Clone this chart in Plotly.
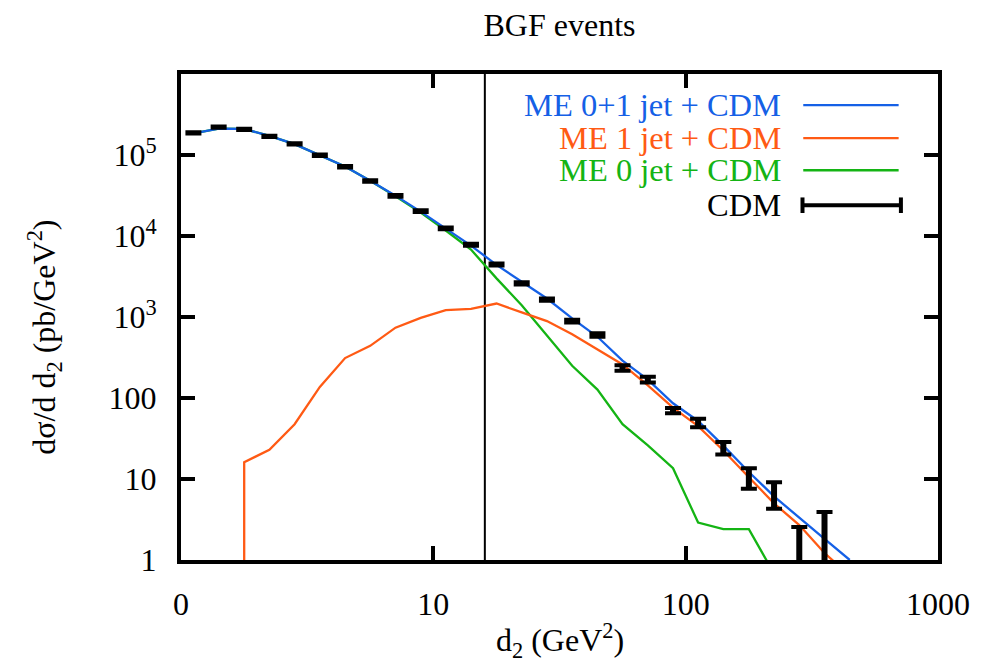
import plotly.graph_objects as go

# bin centres of d2 (GeV^2), 10 bins per decade
d2 = [1.12, 1.41, 1.78, 2.24, 2.82, 3.55, 4.47, 5.62, 7.08, 8.91,
      11.2, 14.1, 17.8, 22.4, 28.2, 35.5, 44.7, 56.2, 70.8, 89.1,
      112, 141, 178, 224, 282, 355, 447]

# CDM reference histogram with errors
cdm_y = [1.88e5, 2.21e5, 2.07e5, 1.70e5, 1.37e5, 9.95e4, 7.17e4, 4.78e4, 3.13e4, 2.03e4,
         1.24e4, 7.8e3, 4.44e3, 2.6e3, 1.64e3, 891, 600, 235, 169, 70,
         49.4, 24.3, 10.6, 6.7, 1.0, 1.3]
cdm_err = [3.5e3, 4.0e3, 3.8e3, 3.2e3, 2.6e3, 2.0e3, 1.5e3, 1.0e3, 700, 480,
           300, 200, 120, 80, 55, 35, 28, 18, 14, 5.2,
           6.0, 4.3, 3.0, 2.4, 1.56, 2.6]

# ME 0+1 jet + CDM
blue_y = [1.85e5, 2.12e5, 2.1e5, 1.72e5, 1.36e5, 9.9e4, 7.2e4, 4.8e4, 3.15e4, 2.0e4,
          1.22e4, 7.6e3, 4.4e3, 2.7e3, 1.69e3, 960, 570, 290, 169, 86,
          52, 25.8, 12.2, 6.1, 3.3, 1.82, 1.0]

# ME 0 jet + CDM
green_y = [1.85e5, 2.12e5, 2.1e5, 1.72e5, 1.36e5, 9.9e4, 7.2e4, 4.8e4, 3.1e4, 1.95e4,
           1.17e4, 6.8e3, 3.0e3, 1.4e3, 600, 250, 127, 47.5, 26, 13.6,
           2.9, 2.4, 2.4, 0.68]

# ME 1 jet + CDM (starts in the 3rd bin, first entry is the empty edge)
orange_x = [1.78, 1.78, 2.24, 2.82, 3.55, 4.47, 5.62, 7.08, 8.91,
            11.2, 14.1, 17.8, 22.4, 28.2, 35.5, 44.7, 56.2, 70.8, 89.1,
            112, 141, 178, 224, 282, 355, 447]
orange_y = [0.01, 16.1, 23, 47.5, 137, 311, 440, 738, 977,
            1214, 1260, 1466, 1138, 891, 612, 400, 260, 143, 76,
            45, 22.5, 10.5, 5.0, 2.7, 1.22, 0.64]

d2_cut = 16

legend_names = ['ME 0+1 jet + CDM', 'ME 1 jet + CDM', 'ME 0 jet + CDM', 'CDM']
col_blue = '#1560e6'
col_orange = '#ff5a14'
col_green = '#14b414'
legend_cols = [col_blue, col_orange, col_green, 'black']

FONT = 'Liberation Serif'
FS = 32

fig = go.Figure()

fig.add_trace(go.Scatter(x=[d2_cut, d2_cut], y=[0.5, 2e6], mode='lines',
                         line=dict(color='black', width=2), showlegend=False))

fig.add_trace(go.Scatter(x=d2[:len(green_y)], y=green_y, mode='lines',
                         line=dict(color=col_green, width=2.3), showlegend=False))
fig.add_trace(go.Scatter(x=orange_x, y=orange_y, mode='lines',
                         line=dict(color=col_orange, width=2.3), showlegend=False))
fig.add_trace(go.Scatter(x=d2, y=blue_y, mode='lines',
                         line=dict(color=col_blue, width=2.3), showlegend=False))

# CDM error bars: thick stems + caps
fig.add_trace(go.Scatter(x=d2[:len(cdm_y)], y=cdm_y, mode='markers',
                         marker=dict(size=1, color='black'),
                         error_y=dict(type='data', array=cdm_err, visible=True,
                                      color='black', thickness=6, width=0),
                         showlegend=False))
fig.add_trace(go.Scatter(x=d2[:len(cdm_y)], y=cdm_y, mode='markers',
                         marker=dict(size=2, color='black'),
                         error_y=dict(type='data', array=cdm_err, visible=True,
                                      color='black', thickness=4, width=8),
                         showlegend=False))

# gnuplot style key: text right aligned, sample to the right
key_y = [0.936, 0.868, 0.802, 0.730]
annotations = []
shapes = []
for name, col, ky in zip(legend_names, legend_cols, key_y):
    annotations.append(dict(x=0.795, y=ky, xref='paper', yref='paper', text=name,
                            showarrow=False, xanchor='right', yanchor='middle',
                            font=dict(family=FONT, size=32.5, color=col)))
    if name == 'CDM':
        shapes.append(dict(type='line', xref='paper', yref='paper', x0=0.821, x1=0.951,
                           y0=ky, y1=ky, line=dict(color='black', width=4)))
        for xe in (0.821, 0.951):
            shapes.append(dict(type='line', xref='paper', yref='paper', x0=xe, x1=xe,
                               y0=ky - 0.016, y1=ky + 0.016, line=dict(color='black', width=4)))
    else:
        shapes.append(dict(type='line', xref='paper', yref='paper', x0=0.822, x1=0.948,
                           y0=ky, y1=ky, line=dict(color=col, width=2.3)))

annotations.append(dict(x=-0.18, y=0.459, xref='paper', yref='paper', textangle=-90,
                        text='dσ/d d<sub>2</sub> (pb/GeV<sup>2</sup>)', showarrow=False,
                        xanchor='center', yanchor='middle',
                        font=dict(family=FONT, size=FS, color='black')))
annotations.append(dict(x=0.5, y=-0.165, xref='paper', yref='paper',
                        text='d<sub>2</sub> (GeV<sup>2</sup>)', showarrow=False,
                        xanchor='center', yanchor='middle',
                        font=dict(family=FONT, size=FS, color='black')))

fig.update_layout(
    width=986, height=662,
    paper_bgcolor='white', plot_bgcolor='white',
    margin=dict(l=173, r=56, t=66, b=110),
    title=dict(text='BGF events', x=0.5, xref='paper', y=0.975, yanchor='middle',
               font=dict(family=FONT, size=FS, color='black')),
    font=dict(family=FONT, size=FS, color='black'),
    annotations=annotations,
    shapes=shapes,
    showlegend=False,
)

axis_style = dict(showline=True, linewidth=4, linecolor='black', mirror='allticks',
                  ticks='inside', ticklen=14, tickwidth=4, tickcolor='black',
                  showgrid=False, zeroline=False,
                  tickfont=dict(family=FONT, size=FS, color='black'))

fig.update_xaxes(type='log', range=[0, 3], tickvals=[1, 10, 100, 1000],
                 ticktext=['0', '10', '100', '1000'], ticklabelstandoff=13, **axis_style)
fig.update_yaxes(type='log', range=[0, 6], tickvals=[1, 10, 100, 1e3, 1e4, 1e5],
                 ticktext=['1', '10', '100', '10<sup>3</sup>', '10<sup>4</sup>', '10<sup>5</sup>'],
                 ticklabelstandoff=14, **axis_style)

fig.write_html('out.html')
